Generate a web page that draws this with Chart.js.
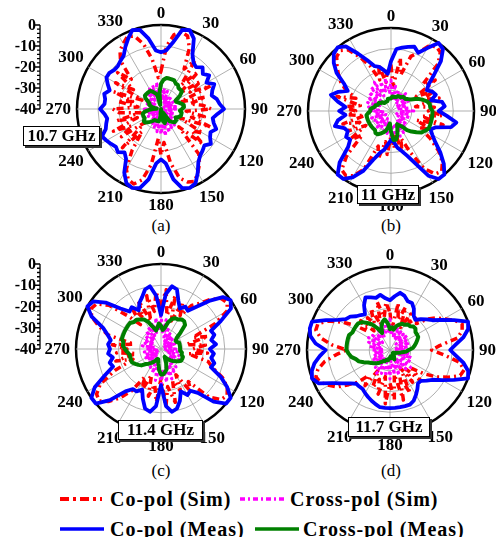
<!DOCTYPE html>
<html>
<head>
<meta charset="utf-8">
<script src="https://cdn.jsdelivr.net/npm/chart.js@4.4.0/dist/chart.umd.min.js"></script>
<style>
  body { margin: 0; background: #fff; }
  #wrap { position: relative; width: 496px; height: 537px; overflow: hidden;
          font-family: "Liberation Serif", "Times New Roman", serif; color: #000; }
  #wrap canvas { position: absolute; left: 0; top: 0; }
  .freq { position: absolute; box-sizing: border-box; border: 1px solid #000; background: #fff;
          box-shadow: 2px 2px 0 #333; font-weight: bold; font-size: 17px; line-height: 18px;
          text-align: center; z-index: 5; }
  .cap { position: absolute; width: 40px; text-align: center; font-size: 17px; line-height: 18px; }
  .leg { position: absolute; font-weight: bold; font-size: 20px; line-height: 20px; letter-spacing: 1px; white-space: nowrap; }
  .legsvg { position: absolute; }
</style>
</head>
<body>
<div id="wrap">
  <div class="freq" style="left:23px;top:126px;width:77px;height:20px;">10.7 GHz</div>
  <div class="freq" style="left:357px;top:185px;width:62px;height:19px;">11 GHz</div>
  <div class="freq" style="left:118px;top:420px;width:85px;height:20px;">11.4 GHz</div>
  <div class="freq" style="left:348px;top:417px;width:82px;height:20px;">11.7 GHz</div>

  <div class="cap" style="left:141px;top:217px;">(a)</div>
  <div class="cap" style="left:371px;top:217px;">(b)</div>
  <div class="cap" style="left:141px;top:462px;">(c)</div>
  <div class="cap" style="left:371px;top:462px;">(d)</div>

  <svg class="legsvg" style="left:58px;top:491px;" width="46" height="16"><line x1="2" y1="8" x2="44" y2="8" stroke="#ff0000" stroke-width="4" stroke-dasharray="9 4 3 4"/></svg>
  <div class="leg" style="left:110px;top:489px;">Co-pol (Sim)</div>
  <svg class="legsvg" style="left:238px;top:491px;" width="50" height="16"><line x1="2" y1="8" x2="48" y2="8" stroke="#ff00ff" stroke-width="3.5" stroke-dasharray="5 3 2 3"/></svg>
  <div class="leg" style="left:290px;top:489px;">Cross-pol (Sim)</div>

  <svg class="legsvg" style="left:58px;top:521px;" width="48" height="16"><line x1="2" y1="8" x2="46" y2="8" stroke="#0000ff" stroke-width="3.5"/></svg>
  <div class="leg" style="left:110px;top:519px;">Co-pol (Meas)</div>
  <svg class="legsvg" style="left:253px;top:521px;" width="48" height="16"><line x1="2" y1="8" x2="46" y2="8" stroke="#008000" stroke-width="3.5"/></svg>
  <div class="leg" style="left:303px;top:519px;">Cross-pol (Meas)</div>
</div>

<script>
// angles (deg), one sample every 5 deg
const angles = [0,5,10,15,20,25,30,35,40,45,50,55,60,65,70,75,80,85,90,95,100,105,110,115,
  120,125,130,135,140,145,150,155,160,165,170,175,180,185,190,195,200,205,210,215,220,225,230,235,
  240,245,250,255,260,265,270,275,280,285,290,295,300,305,310,315,320,325,330,335,340,345,350,355];
const angleTicks = [0,30,60,90,120,150,180,210,240,270,300,330];
const dbTicks = [0,-10,-20,-30,-40];

// (a) 10.7 GHz
const coSimA = [-22,-10,-4,-2,-3,-8,-18,-12,-25,-15,-28,-17,
  -24,-14,-30,-18,-26,-20,-16,-28,-19,-25,-15,-30,
  -17,-22,-14,-28,-12,-8,-5,-2,-3,-6,-14,-24,
  -18,-26,-13,-5,-2,-3,-7,-16,-26,-14,-30,-17,
  -24,-15,-28,-18,-30,-20,-17,-29,-19,-26,-16,-30,
  -15,-24,-13,-20,-10,-6,-4,-2,-3,-8,-16,-25];
const crossSimA = [-28,-34,-30,-36,-31,-37,-33,-38,-32,-36,-34,-38,
  -33,-37,-34,-39,-33,-36,-32,-37,-34,-38,-33,-36,
  -32,-37,-31,-35,-30,-36,-29,-34,-28,-33,-27,-32,
  -28,-33,-29,-35,-30,-36,-32,-37,-33,-38,-34,-37,
  -33,-38,-34,-36,-33,-38,-32,-37,-34,-38,-33,-36,
  -31,-37,-32,-35,-30,-36,-29,-34,-28,-33,-27,-32];
const coMeasA = [-13,-12,-8,-1,0,-3,-10,-13,-14,-12,-14,-12,
  -15,-12,-14,-15,-13,-12,-10,-13,-15,-14,-12,-14,
  -13,-11,-13,-12,-11,-9,-5,-1,0,-1,-6,-14,
  -16,-14,-6,-1,0,-1,-5,-11,-13,-11,-12,-11,
  -10,-9,-12,-13,-14,-13,-11,-13,-13,-12,-14,-12,
  -10,-10,-11,-11,-10,-9,-6,-3,0,-1,-6,-12];
const crossMeasA = [-28,-26,-25,-25,-25,-25,-26,-26,-27,-27,-27,-29,
  -32,-32,-31,-30,-29,-29,-30,-31,-30,-30,-30,-31,
  -32,-31,-31,-31,-32,-33,-38,-36,-34,-33,-34,-36,
  -40,-36,-34,-34,-34,-34,-34,-33,-32,-31,-30,-30,
  -31,-31,-31,-31,-32,-34,-36,-38,-36,-35,-34,-34,
  -33,-31,-30,-30,-30,-30,-30,-31,-32,-33,-38,-32];

// (b) 11 GHz
const coSimB = [-18,-28,-14,-22,-12,-9,-4,-2,-3,-8,-20,-14,
  -26,-17,-24,-16,-28,-19,-22,-15,-25,-14,-27,-19,
  -24,-17,-10,-5,-2,-3,-8,-18,-26,-20,-30,-22,
  -28,-19,-25,-16,-22,-9,-4,-2,-3,-10,-22,-15,
  -26,-17,-24,-16,-27,-19,-23,-17,-25,-13,-22,-16,
  -12,-9,-6,-3,-2,-4,-10,-16,-24,-17,-26,-20];
const crossSimB = [-25,-33,-27,-35,-29,-34,-30,-36,-29,-33,-31,-37,
  -30,-35,-32,-37,-31,-34,-29,-36,-31,-35,-30,-37,
  -32,-36,-31,-34,-29,-35,-28,-33,-27,-34,-28,-32,
  -27,-33,-29,-35,-30,-36,-31,-34,-29,-35,-30,-37,
  -31,-36,-30,-35,-32,-37,-30,-34,-29,-33,-28,-34,
  -27,-32,-26,-33,-25,-31,-24,-32,-25,-30,-24,-31];
const coMeasB = [-16,-10,-9,-8,-7,-9,-5,0,-1,-6,-13,-18,
  -20,-18,-17,-20,-15,-14,-17,-13,-8,-10,-17,-19,
  -17,-14,-9,-4,0,0,-4,-12,-17,-20,-22,-25,
  -26,-24,-21,-19,-15,-8,-3,0,0,-5,-13,-16,
  -15,-17,-16,-12,-14,-18,-15,-18,-14,-10,-13,-17,
  -14,-8,-4,-1,0,-2,-8,-13,-17,-18,-20,-22];
const crossMeasB = [-34,-33,-33,-33,-33,-32,-32,-32,-31,-31,-31,-30,
  -29,-26,-24,-22,-21,-21,-20,-20,-20,-20,-20,-20,
  -21,-22,-24,-26,-28,-31,-32,-33,-31,-28,-26,-26,
  -30,-34,-32,-30,-29,-28,-27,-27,-28,-28,-28,-28,
  -28,-28,-28,-28,-28,-29,-30,-30,-31,-32,-32,-33,
  -33,-33,-34,-34,-35,-35,-35,-35,-35,-34,-34,-34];

// (c) 11.4 GHz
const coSimC = [-20,-12,-24,-14,-26,-16,-22,-15,-12,-7,-3,-2,
  -4,-12,-24,-17,-28,-19,-25,-18,-27,-17,-14,-8,
  -4,-2,-3,-8,-20,-15,-26,-18,-24,-14,-22,-13,
  -26,-15,-23,-17,-27,-18,-25,-16,-10,-5,-2,-3,
  -7,-16,-26,-18,-28,-19,-24,-17,-27,-14,-9,-4,
  -2,-3,-8,-18,-25,-16,-23,-15,-26,-14,-22,-13];
const crossSimC = [-23,-32,-26,-35,-29,-36,-31,-37,-32,-36,-33,-38,
  -32,-37,-33,-38,-34,-36,-33,-38,-32,-37,-31,-36,
  -30,-35,-31,-34,-29,-33,-27,-32,-25,-31,-24,-30,
  -22,-31,-25,-33,-28,-35,-30,-36,-31,-37,-32,-38,
  -31,-36,-33,-38,-32,-37,-33,-36,-31,-37,-32,-35,
  -31,-36,-30,-35,-29,-34,-28,-33,-27,-32,-25,-31];
const coMeasC = [-24,-14,-10,-11,-16,-19,-17,-18,-14,-8,-2,0,
  -2,-9,-15,-14,-16,-14,-17,-15,-16,-14,-15,-9,
  -4,0,0,-5,-13,-16,-15,-18,-14,-11,-10,-13,
  -23,-13,-10,-11,-15,-19,-17,-17,-14,-6,0,0,
  -4,-11,-16,-15,-17,-15,-16,-15,-16,-14,-11,-4,
  0,-1,-6,-13,-17,-16,-19,-16,-14,-11,-10,-15];
const crossMeasC = [-29,-31,-30,-27,-25,-24,-24,-23,-23,-24,-28,-31,
  -32,-32,-31,-31,-31,-31,-31,-31,-30,-30,-29,-29,
  -29,-30,-31,-32,-33,-34,-35,-36,-33,-30,-29,-28,
  -28,-30,-33,-35,-35,-34,-33,-32,-31,-30,-28,-27,
  -26,-25,-25,-25,-25,-24,-23,-22,-22,-21,-21,-21,
  -21,-21,-21,-22,-22,-23,-24,-26,-29,-31,-30,-28];

// (d) 11.7 GHz
const coSimD = [-22,-30,-17,-25,-18,-28,-20,-24,-19,-22,-17,-13,
  -10,-6,-3,-4,-7,-16,-20,-14,-6,-3,-4,-9,
  -14,-20,-26,-19,-28,-21,-30,-17,-26,-15,-28,-16,
  -24,-14,-27,-18,-25,-20,-29,-19,-24,-18,-14,-9,
  -6,-3,-2,-4,-8,-14,-19,-12,-6,-3,-3,-7,
  -13,-19,-26,-20,-28,-21,-25,-18,-27,-16,-24,-17];
const crossSimD = [-25,-33,-28,-34,-27,-35,-29,-34,-30,-36,-29,-35,
  -31,-36,-30,-37,-32,-36,-31,-37,-30,-35,-29,-36,
  -28,-34,-27,-33,-28,-35,-29,-34,-27,-33,-28,-35,
  -26,-33,-27,-34,-28,-32,-27,-35,-29,-34,-30,-36,
  -30,-35,-31,-36,-32,-37,-31,-36,-30,-35,-29,-34,
  -28,-34,-29,-35,-30,-33,-28,-34,-27,-32,-24,-31];
const coMeasD = [-16,-14,-12,-13,-15,-15,-17,-20,-21,-19,-17,-15,
  -11,-6,0,-1,-4,-8,-11,-8,-4,-1,0,-6,
  -11,-15,-17,-19,-19,-17,-15,-13,-12,-12,-12,-12,
  -12,-12,-12,-13,-14,-15,-16,-17,-17,-17,-15,-12,
  -8,-2,0,-1,-3,-6,-9,-4,-1,0,0,-6,
  -11,-14,-15,-17,-18,-19,-15,-12,-13,-14,-13,-15];
const crossMeasD = [-30,-29,-30,-28,-27,-26,-26,-25,-25,-24,-24,-25,
  -25,-25,-26,-27,-28,-29,-31,-32,-34,-35,-36,-37,
  -37,-37,-38,-38,-38,-37,-36,-35,-36,-36,-37,-37,
  -36,-36,-35,-35,-35,-34,-34,-33,-32,-31,-30,-29,
  -28,-26,-24,-23,-21,-20,-19,-19,-19,-19,-19,-20,
  -20,-20,-20,-21,-23,-25,-28,-31,-28,-26,-25,-27];

const W = 496, H = 537;

// angle labels round the rim + the separate dB axis on the left
const polarText = {
  id: 'polarText',
  afterDraw(chart, args, opts) {
    const s = chart.scales.r, ctx = chart.ctx;
    const R = s.drawingArea;
    ctx.save();
    ctx.fillStyle = '#000';
    ctx.font = 'bold 17px "Liberation Serif", "Times New Roman", serif';
    ctx.textAlign = 'center';
    ctx.textBaseline = 'middle';
    angleTicks.forEach(a => {
      const t = a * Math.PI / 180;
      const txt = String(a);
      const w = ctx.measureText(txt).width, h = 12;
      const d = R + 6 + Math.abs(Math.sin(t)) * w / 2 + Math.abs(Math.cos(t)) * h / 2;
      ctx.fillText(txt, s.xCenter + d * Math.sin(t), s.yCenter - d * Math.cos(t) + 1);
    });
    if (opts.dbAxis) {
      const x = 40;
      ctx.strokeStyle = '#000';
      ctx.lineWidth = 1.3;
      ctx.beginPath();
      ctx.moveTo(x, s.yCenter - R);
      ctx.lineTo(x, s.yCenter);
      for (let v = 0; v >= -40; v -= 2) {
        const y = s.yCenter - s.getDistanceFromCenterForValue(v);
        const len = v % 10 === 0 ? 5 : 3;
        ctx.moveTo(x - len, y);
        ctx.lineTo(x, y);
      }
      ctx.stroke();
      ctx.font = 'bold 16px "Liberation Serif", "Times New Roman", serif';
      ctx.textAlign = 'right';
      dbTicks.forEach(v => {
        const y = s.yCenter - s.getDistanceFromCenterForValue(v);
        ctx.fillText(String(v), x - 4, y + 1);
      });
    }
    ctx.restore();
  }
};

function makePlot(cx, cy, R, coSim, crossSim, coMeas, crossMeas, dbAxis) {
  const canvas = document.createElement('canvas');
  canvas.width = W;
  canvas.height = H;
  document.getElementById('wrap').appendChild(canvas);
  new Chart(canvas.getContext('2d'), {
    type: 'radar',
    data: {
      labels: angles,
      datasets: [
        { label: 'Cross-pol (Meas)', data: crossMeas, borderColor: '#008000', borderWidth: 4 },
        { label: 'Co-pol (Meas)', data: coMeas, borderColor: '#0000ff', borderWidth: 3.8 },
        { label: 'Cross-pol (Sim)', data: crossSim, borderColor: '#ff00ff', borderWidth: 3, borderDash: [3, 3] },
        { label: 'Co-pol (Sim)', data: coSim, borderColor: '#ff0000', borderWidth: 3.5, borderDash: [7, 4, 2, 4] }
      ]
    },
    options: {
      responsive: false,
      animation: false,
      layout: { padding: { left: cx - R, right: W - cx - R, top: cy - R, bottom: H - cy - R } },
      elements: {
        point: { radius: 0, hoverRadius: 0 },
        line: { fill: false, tension: 0, borderJoinStyle: 'round' }
      },
      plugins: {
        legend: { display: false },
        tooltip: { enabled: false },
        polarText: { dbAxis: dbAxis }
      },
      scales: {
        r: {
          min: -40,
          max: 0,
          ticks: { display: false, stepSize: 10 },
          pointLabels: { display: false },
          grid: {
            circular: true,
            color: c => (c.tick && c.tick.value === 0 ? '#000' : '#a6a6a6'),
            lineWidth: c => (c.tick && c.tick.value === 0 ? 2.5 : 0.9)
          },
          angleLines: {
            color: '#a6a6a6',
            lineWidth: c => (c.index % 6 === 0 ? 0.9 : 0)
          }
        }
      }
    },
    plugins: [polarText]
  });
}

makePlot(161, 109, 84, coSimA, crossSimA, coMeasA, crossMeasA, true);
makePlot(391, 111, 83, coSimB, crossSimB, coMeasB, crossMeasB, false);
makePlot(161, 349, 85, coSimC, crossSimC, coMeasC, crossMeasC, true);
makePlot(390, 350, 83, coSimD, crossSimD, coMeasD, crossMeasD, false);
</script>
</body>
</html>
